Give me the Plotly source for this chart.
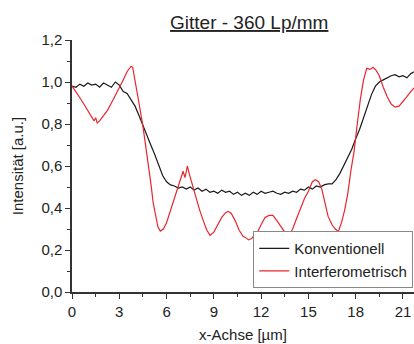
import plotly.graph_objects as go

title_text = "Gitter - 360 Lp/mm"
x_title = "x-Achse [µm]"
y_title = "Intensität [a.u.]"
series_names = ["Konventionell", "Interferometrisch"]

# Konventionell (black)
konv_x = [0.0, 0.25, 0.5, 0.75, 1.0, 1.25, 1.5, 1.75, 2.0, 2.25, 2.5, 2.75, 3.0, 3.25, 3.5, 3.75,
          4.0, 4.25, 4.5, 4.75, 5.0, 5.25, 5.5, 5.75, 6.0, 6.25, 6.5, 6.75, 7.0, 7.25, 7.5, 7.75,
          8.0, 8.25, 8.5, 8.75, 9.0, 9.25, 9.5, 9.75, 10.0, 10.25, 10.5, 10.75, 11.0, 11.25, 11.5,
          11.75, 12.0, 12.25, 12.5, 12.75, 13.0, 13.25, 13.5, 13.75, 14.0, 14.25, 14.5, 14.75, 15.0,
          15.25, 15.5, 15.75, 16.0, 16.25, 16.5, 16.75, 17.0, 17.25, 17.5, 17.75, 18.0, 18.25, 18.5,
          18.75, 19.0, 19.25, 19.5, 19.75, 20.0, 20.25, 20.5, 20.75, 21.0, 21.25, 21.5, 21.75]
konv_y = [0.98, 0.975, 0.99, 0.98, 0.995, 0.985, 0.99, 0.975, 0.995, 0.985, 0.975, 1.0, 0.985,
          0.955, 0.945, 0.915, 0.885, 0.84, 0.79, 0.745, 0.70, 0.655, 0.60, 0.555, 0.525, 0.51,
          0.505, 0.495, 0.50, 0.49, 0.50, 0.485, 0.495, 0.48, 0.49, 0.475, 0.48, 0.47, 0.485, 0.475,
          0.48, 0.465, 0.475, 0.46, 0.47, 0.46, 0.475, 0.465, 0.48, 0.47, 0.475, 0.48, 0.47, 0.465,
          0.475, 0.47, 0.48, 0.475, 0.49, 0.485, 0.50, 0.49, 0.505, 0.50, 0.51, 0.515, 0.515, 0.535,
          0.565, 0.605, 0.64, 0.68, 0.73, 0.775, 0.83, 0.89, 0.94, 0.98, 1.0, 1.01, 1.02, 1.03,
          1.035, 1.025, 1.03, 1.02, 1.04, 1.05]

# Interferometrisch (red)
inter_x = [0.0, 0.25, 0.5, 0.75, 1.0, 1.25, 1.4, 1.5, 1.6, 1.75, 2.0, 2.25, 2.5, 2.75, 3.0, 3.25,
           3.5, 3.75, 3.85, 4.0, 4.25, 4.5, 4.75, 5.0, 5.15, 5.3, 5.45, 5.6, 5.8, 6.0, 6.2, 6.4,
           6.6, 6.85, 7.05, 7.17, 7.32, 7.45, 7.6, 7.9, 8.1, 8.33, 8.55, 8.76, 9.0, 9.25, 9.5, 9.75,
           9.9, 10.1, 10.35, 10.6, 10.85, 11.0, 11.2, 11.4, 11.6, 11.8, 12.0, 12.25, 12.5, 12.75,
           13.0, 13.25, 13.5, 13.8, 14.0, 14.25, 14.5, 14.75, 15.0, 15.25, 15.45, 15.65, 15.85,
           16.05, 16.25, 16.5, 16.7, 16.9, 17.1, 17.3, 17.5, 17.7, 17.9, 18.1, 18.3, 18.5, 18.7,
           18.9, 19.1, 19.3, 19.5, 19.75, 20.0, 20.25, 20.5, 20.75, 21.0, 21.25, 21.5, 21.75]
inter_y = [0.98, 0.955, 0.925, 0.895, 0.865, 0.835, 0.815, 0.83, 0.805, 0.815, 0.84, 0.865, 0.90,
           0.935, 0.97, 1.01, 1.05, 1.075, 1.07, 1.0, 0.90, 0.79, 0.66, 0.52, 0.425, 0.36, 0.31,
           0.29, 0.30, 0.33, 0.375, 0.42, 0.47, 0.52, 0.575, 0.545, 0.60, 0.56, 0.52, 0.44, 0.39,
           0.34, 0.295, 0.27, 0.285, 0.32, 0.355, 0.378, 0.384, 0.375, 0.34, 0.295, 0.265, 0.26,
           0.248, 0.255, 0.27, 0.29, 0.32, 0.355, 0.365, 0.365, 0.34, 0.31, 0.285, 0.275, 0.30,
           0.35, 0.40, 0.445, 0.48, 0.525, 0.535, 0.525, 0.49, 0.42, 0.36, 0.32, 0.30, 0.288, 0.33,
           0.39, 0.47, 0.58, 0.67, 0.80, 0.92, 1.01, 1.065, 1.06, 1.07, 1.055, 1.03, 0.975, 0.93,
           0.895, 0.88, 0.885, 0.905, 0.93, 0.955, 0.975]

font_family = "Liberation Sans, Arial, sans-serif"
text_color = "#222222"

fig = go.Figure()
fig.add_trace(go.Scatter(x=konv_x, y=konv_y, mode="lines", name=series_names[0],
                         line=dict(color="#1a1a1a", width=1.2)))
fig.add_trace(go.Scatter(x=inter_x, y=inter_y, mode="lines", name=series_names[1],
                         line=dict(color="#e8262e", width=1.2)))

axis_common = dict(
    showgrid=False, zeroline=False, showline=True, linecolor="#333333", linewidth=1.5,
    ticks="outside", ticklen=5, tickwidth=1.2, tickcolor="#333333", automargin=False,
    tickfont=dict(size=15, color=text_color, family=font_family),
)

fig.update_layout(
    width=414, height=344,
    margin=dict(l=72, r=0, t=40, b=52, autoexpand=False),
    paper_bgcolor="white", plot_bgcolor="white",
    separators=",.",
    font=dict(family=font_family, color=text_color, size=15),
    title=dict(text="<u>" + title_text + "</u>", x=0.602, xanchor="center", y=0.935,
               yanchor="middle", font=dict(size=19, color=text_color, family=font_family)),
    xaxis=dict(range=[0, 21.7], tickmode="linear", tick0=0, dtick=3,
               minor=dict(ticks="outside", ticklen=3, dtick=1.5, tick0=0, tickcolor="#333333"),
               title=dict(text=x_title, standoff=11, font=dict(size=15)), **axis_common),
    yaxis=dict(range=[0, 1.2], tickmode="linear", tick0=0, dtick=0.2, tickformat=".1f",
               minor=dict(ticks="outside", ticklen=3, dtick=0.1, tick0=0, tickcolor="#333333"),
               title=dict(text=y_title, standoff=14, font=dict(size=15)), **axis_common),
    legend=dict(x=0.53, xanchor="left", y=0.015, yanchor="bottom",
                bgcolor="white", bordercolor="#888888", borderwidth=1,
                font=dict(size=15, color=text_color), tracegroupgap=0,
                itemwidth=30),
    showlegend=True,
)

fig.write_html("out.html", config={"displayModeBar": False},
               post_script="document.body.style.margin='0';document.body.style.padding='0';")
